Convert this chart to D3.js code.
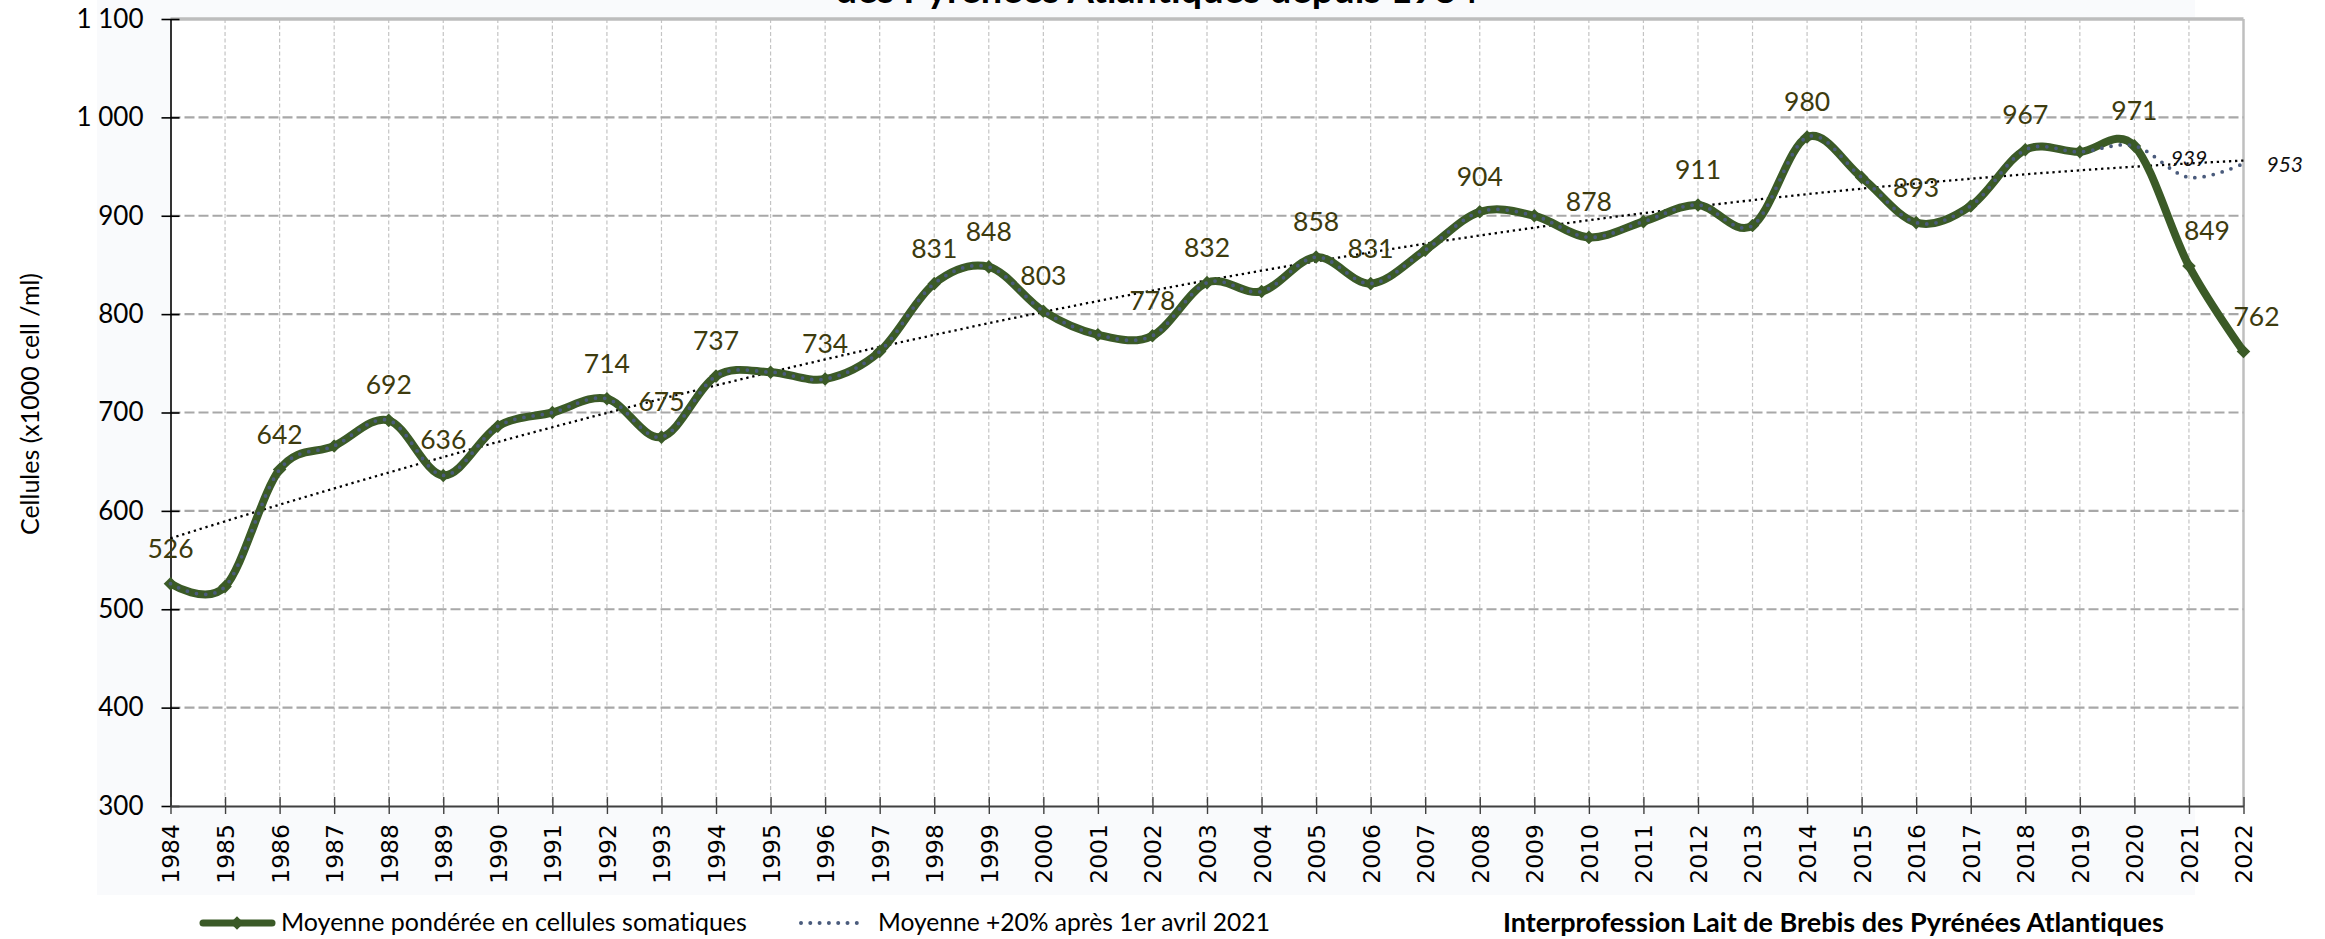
<!DOCTYPE html>
<html>
<head>
<meta charset="utf-8">
<script src="https://cdn.jsdelivr.net/npm/d3@7/dist/d3.min.js"></script>
<style>
  html, body { margin: 0; padding: 0; background: #ffffff; }
  svg { display: block; }
  svg text { font-variant-ligatures: none; font-feature-settings: "liga" 0, "clig" 0; }
</style>
</head>
<body>
<svg id="chart" width="2325" height="939"></svg>
<script>
// Years of the campaign series
const years = [1984, 1985, 1986, 1987, 1988, 1989, 1990, 1991, 1992, 1993,
               1994, 1995, 1996, 1997, 1998, 1999, 2000, 2001, 2002, 2003,
               2004, 2005, 2006, 2007, 2008, 2009, 2010, 2011, 2012, 2013,
               2014, 2015, 2016, 2017, 2018, 2019, 2020, 2021, 2022];

// Weighted mean somatic cell count (x1000 cells/ml)
const somaticCells = [526, 523, 642, 666, 692, 636, 686, 700, 714, 675,
                      737, 741, 734, 762, 831, 848, 803, 779, 778, 832,
                      823, 858, 831, 865, 904, 900, 878, 894, 911, 890,
                      980, 939, 893, 910, 967, 965, 971, 849, 762];

// Same mean, with +20% applied after 1 April 2021
const scenarioCells = [526, 523, 642, 666, 692, 636, 686, 700, 714, 675,
                       737, 741, 734, 762, 831, 848, 803, 779, 778, 832,
                       823, 858, 831, 865, 904, 900, 878, 894, 911, 890,
                       980, 939, 893, 910, 967, 965, 971, 939, 953];

// Years whose value is printed next to the main line
const labelledYears = [1984, 1986, 1988, 1989, 1992, 1993, 1994, 1996, 1998, 1999,
                       2000, 2002, 2003, 2005, 2006, 2008, 2010, 2012, 2014, 2016,
                       2018, 2020, 2021, 2022];
// Years whose value is printed for the +20% series
const scenarioLabelledYears = [2021, 2022];

// Y axis ticks
const yTickValues = [300, 400, 500, 600, 700, 800, 900, 1000, 1100];
const yTickLabels = ["300", "400", "500", "600", "700", "800", "900", "1 000", "1 100"];

const titleText = "des Pyrénées Atlantiques depuis 1984";
const yAxisTitle = "Cellules (x1000 cell /ml)";
const legendMain = "Moyenne pondérée en cellules somatiques";
const legendScenario = "Moyenne +20% après 1er avril 2021";
const sourceText = "Interprofession Lait de Brebis des Pyrénées Atlantiques";

// ---- layout & style ----
const W = 2325, H = 939;
const plot = { left: 170.5, right: 2243.5, top: 19, bottom: 806 };
const GREEN = "#3b5a27";
const LABEL = "#3d3b0e";
const SLATE = "#4a5b7c";
const LATO = "Lato, 'Open Sans', sans-serif";
const DEJAVU = "'DejaVu Sans', Verdana, sans-serif";

// small horizontal nudges for a few value labels
const labelNudge = { 2021: 18, 2022: 13 };

const svg = d3.select("#chart");

const x = d3.scaleLinear().domain([1984, 2022]).range([plot.left, plot.right]);
const y = d3.scaleLinear().domain([300, 1100]).range([plot.bottom, plot.top]);

const mainData = years.map((yr, i) => ({ year: yr, value: somaticCells[i] }));
const scenData = years.map((yr, i) => ({ year: yr, value: scenarioCells[i] }));

// backgrounds
svg.append("rect").attr("x", 0).attr("y", 0).attr("width", W).attr("height", H).attr("fill", "#ffffff");
svg.append("rect").attr("x", 97).attr("y", 0).attr("width", 2195 - 97).attr("height", 895)
   .attr("fill", "#f9fafc");
svg.append("rect").attr("x", plot.left).attr("y", plot.top)
   .attr("width", plot.right - plot.left).attr("height", plot.bottom - plot.top)
   .attr("fill", "#ffffff");

const grid = svg.append("g");

// vertical gridlines (one per year)
grid.selectAll("line.vgrid")
  .data(years.filter(yr => yr !== 1984 && yr !== 2022))
  .join("line")
  .attr("x1", d => x(d)).attr("x2", d => x(d))
  .attr("y1", plot.top).attr("y2", plot.bottom)
  .attr("stroke", "#c4c4c4").attr("stroke-width", 1.2)
  .attr("stroke-dasharray", "4 2.5");

// right border of plot
grid.append("line")
  .attr("x1", x(2022)).attr("x2", x(2022))
  .attr("y1", plot.top).attr("y2", plot.bottom)
  .attr("stroke", "#bfbfbf").attr("stroke-width", 2.5);

// horizontal gridlines
grid.selectAll("line.hgrid")
  .data(yTickValues.filter(v => v > 300 && v < 1100))
  .join("line")
  .attr("x1", plot.left).attr("x2", plot.right)
  .attr("y1", d => y(d)).attr("y2", d => y(d))
  .attr("stroke", "#a8a8a8").attr("stroke-width", 2.2)
  .attr("stroke-dasharray", "10 4");

grid.append("line")
  .attr("x1", plot.left).attr("x2", plot.right)
  .attr("y1", y(1100)).attr("y2", y(1100))
  .attr("stroke", "#bdbdbd").attr("stroke-width", 3.5);

// ---- axes ----
const yAxis = d3.axisLeft(y)
  .tickValues(yTickValues)
  .tickFormat((d, i) => yTickLabels[i])
  .tickSize(0)
  .tickPadding(27);
const gy = svg.append("g").attr("transform", `translate(${plot.left},0)`).call(yAxis);
gy.select(".domain").attr("stroke", "#000").attr("stroke-width", 1.6);
gy.selectAll(".tick text")
  .attr("font-family", LATO).attr("font-size", 26).attr("fill", "#000");
gy.selectAll(".tick").append("line")
  .attr("x1", -9).attr("x2", 9).attr("stroke", "#000").attr("stroke-width", 1.6);

const xAxis = d3.axisBottom(x)
  .tickValues(years)
  .tickFormat(d3.format("d"))
  .tickSize(0);
const gx = svg.append("g").attr("transform", `translate(0,${plot.bottom})`).call(xAxis);
gx.select(".domain").attr("stroke", "#404040").attr("stroke-width", 2);
gx.selectAll(".tick").append("line")
  .attr("y1", -9).attr("y2", 8).attr("stroke", "#404040").attr("stroke-width", 1.4);
gx.selectAll(".tick text")
  .attr("font-family", DEJAVU).attr("font-size", 23.5).attr("fill", "#000")
  .attr("transform", "rotate(-90)")
  .attr("text-anchor", "end")
  .attr("x", -18).attr("y", 0).attr("dy", "0.36em");

// ---- polynomial (order 2) trend of the +20% series ----
function quadFit(xs, ys) {
  // least squares for y = a + b t + c t^2
  let s = [0, 0, 0, 0, 0], r = [0, 0, 0];
  xs.forEach((t, i) => {
    let p = 1;
    for (let k = 0; k < 5; k++) { s[k] += p; if (k < 3) r[k] += p * ys[i]; p *= t; }
  });
  const M = [[s[0], s[1], s[2], r[0]], [s[1], s[2], s[3], r[1]], [s[2], s[3], s[4], r[2]]];
  for (let c = 0; c < 3; c++) {
    for (let rr = c + 1; rr < 3; rr++) {
      const f = M[rr][c] / M[c][c];
      for (let k = c; k < 4; k++) M[rr][k] -= f * M[c][k];
    }
  }
  const sol = [0, 0, 0];
  for (let c = 2; c >= 0; c--) {
    let v = M[c][3];
    for (let k = c + 1; k < 3; k++) v -= M[c][k] * sol[k];
    sol[c] = v / M[c][c];
  }
  return t => sol[0] + sol[1] * t + sol[2] * t * t;
}
const tIndex = years.map((yr, i) => i + 1);
const trend = quadFit(tIndex, scenarioCells);
const trendPts = d3.range(0, years.length - 1 + 0.001, 0.25)
  .map(i => ({ year: years[0] + i, value: trend(i + 1) }));

const line = d3.line()
  .x(d => x(d.year)).y(d => y(d.value))
  .curve(d3.curveCardinal.tension(0));

svg.append("path")
  .datum(trendPts)
  .attr("d", d3.line().x(d => x(d.year)).y(d => y(d.value)))
  .attr("fill", "none").attr("stroke", "#000").attr("stroke-width", 2.3)
  .attr("stroke-dasharray", "2.3 3.8");

// ---- main series ----
svg.append("path")
  .datum(mainData)
  .attr("d", line)
  .attr("fill", "none").attr("stroke", GREEN).attr("stroke-width", 8)
  .attr("stroke-linejoin", "round");

const diamond = d3.symbol().type(d3.symbolSquare).size(92);
svg.selectAll("path.marker")
  .data(mainData)
  .join("path")
  .attr("d", diamond)
  .attr("transform", d => `translate(${x(d.year)},${y(d.value)}) rotate(45)`)
  .attr("fill", GREEN);

// ---- +20% series (dotted, drawn over the main line) ----
svg.append("path")
  .datum(scenData)
  .attr("d", line)
  .attr("fill", "none").attr("stroke", SLATE).attr("stroke-width", 3.8)
  .attr("stroke-linecap", "round")
  .attr("stroke-dasharray", "0 9.3");

// ---- value labels ----
svg.selectAll("text.vlabel")
  .data(mainData.filter(d => labelledYears.includes(d.year)))
  .join("text")
  .attr("x", d => x(d.year) + (labelNudge[d.year] || 0))
  .attr("y", d => y(d.value) - 26)
  .attr("text-anchor", "middle")
  .attr("font-family", LATO).attr("font-size", 26.5)
  .attr("fill", LABEL)
  .text(d => d.value);

const scenLabels = scenData.filter(d => scenarioLabelledYears.includes(d.year));
svg.selectAll("text.slabel")
  .data(scenLabels)
  .join("text")
  .attr("x", (d, i) => i === 0 ? x(d.year) : x(d.year) + 23)
  .attr("y", (d, i) => i === 0 ? y(d.value) - 11 : y(d.value) + 8)
  .attr("text-anchor", (d, i) => i === 0 ? "middle" : "start")
  .attr("font-family", LATO).attr("font-style", "italic").attr("font-size", 21)
  .attr("fill", "#111")
  .text(d => d.value);

// ---- titles ----
svg.append("text")
  .attr("x", 1157).attr("y", 3)
  .attr("text-anchor", "middle")
  .attr("font-family", LATO).attr("font-weight", 700).attr("font-size", 38)
  .attr("fill", "#000")
  .text(titleText);

svg.append("text")
  .attr("transform", `translate(39,404) rotate(-90)`)
  .attr("text-anchor", "middle")
  .attr("font-family", LATO).attr("font-size", 25)
  .attr("fill", "#000")
  .text(yAxisTitle);

// ---- legend ----
const lg = svg.append("g");
lg.append("line")
  .attr("x1", 203).attr("x2", 272).attr("y1", 923).attr("y2", 923)
  .attr("stroke", GREEN).attr("stroke-width", 7).attr("stroke-linecap", "round");
lg.append("path")
  .attr("d", diamond)
  .attr("transform", "translate(237,923) rotate(45)")
  .attr("fill", GREEN);
lg.append("text")
  .attr("x", 281).attr("y", 931)
  .attr("font-family", LATO).attr("font-size", 25).attr("fill", "#000")
  .text(legendMain);

lg.append("line")
  .attr("x1", 801).attr("x2", 866).attr("y1", 923).attr("y2", 923)
  .attr("stroke", SLATE).attr("stroke-width", 4).attr("stroke-linecap", "round")
  .attr("stroke-dasharray", "0 9.3");
lg.append("text")
  .attr("x", 878).attr("y", 931)
  .attr("font-family", LATO).attr("font-size", 24.6).attr("fill", "#000")
  .text(legendScenario);

svg.append("text")
  .attr("x", 1503).attr("y", 932)
  .attr("font-family", LATO).attr("font-weight", 700).attr("font-size", 27)
  .attr("fill", "#000")
  .text(sourceText);
</script>
</body>
</html>
